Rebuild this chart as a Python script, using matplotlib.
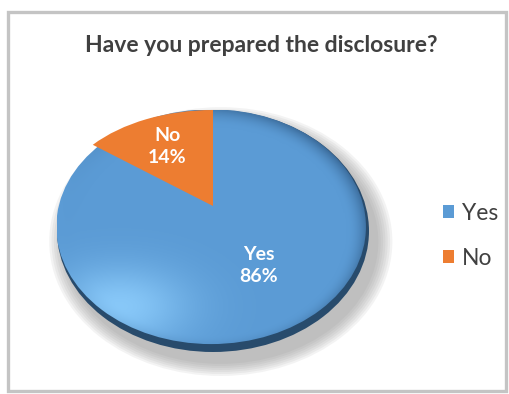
import matplotlib
matplotlib.use("Agg")
import numpy as np
import matplotlib.pyplot as plt
from matplotlib.patches import Rectangle, Ellipse, Patch
from matplotlib.colors import to_rgb

# data
labels = ["Yes", "No"]
values = [86, 14]
colors = ["#5B9BD5", "#ED7D31"]
title = "Have you prepared the disclosure?"

plt.rcParams['font.family'] = ['Lato', 'DejaVu Sans']

W, H = 510, 394
fig = plt.figure(figsize=(W / 100, H / 100), dpi=100)
fig.patch.set_facecolor("white")

# outer chart frame
bg = fig.add_axes([0, 0, 1, 1])
bg.set_xlim(0, W)
bg.set_ylim(H, 0)
bg.axis("off")
bg.add_patch(Rectangle((8, 12), 498, 379, fill=False, edgecolor="#C4C4C4", lw=2.4))

fig.text(261 / W, 1 - 46 / H, title, ha="center", va="center",
         fontsize=16.5, fontweight="bold", color="#404040")

# pie axes: radius 1 -> 156 px wide, 96 px tall, disc depth ~50 px
rx, ry, depth = 156, 96, 50
left, top = 57, 110
ax_h = 2 * ry + depth
ax = fig.add_axes([left / W, (H - top - ax_h) / H, 2 * rx / W, ax_h / H])
d = depth / ry
ylo = -1 - d
yc, hh = -d / 2, 1 + d / 2  # centre and half height of the disc outline

# soft drop shadow
for k in range(7):
    g = 0.10 - k * 0.015
    ax.add_patch(Ellipse((0.05, yc - 0.11), 2 + 2 * g, 2 * hh + 2 * g * 1.4,
                         color="#808080", alpha=0.09, lw=0, zorder=0, clip_on=False))

# dark rim + shaded body
ax.add_patch(Ellipse((0, yc), 2, 2 * hh, color="#284B6C", lw=0, zorder=0.5))
body = Ellipse((-0.012, yc + 0.045), 1.985, 2 * hh - 0.075, color="none", lw=0)
ax.add_patch(body)

xs = np.linspace(-1.05, 1.05, 300)
ys = np.linspace(ylo - 0.05, 1.05, 300)
X, Y = np.meshgrid(xs, ys)
base = np.array(to_rgb(colors[0]))
light = np.array(to_rgb("#8ACAFA"))
dark = np.array(to_rgb("#3A6A99"))
hl = 0.95 * np.exp(-(((X + 0.6) / 0.45) ** 2 + ((Y + 1.05) / 0.42) ** 2))
r = np.sqrt(X ** 2 + ((Y - yc) / hh) ** 2)
dk = np.clip((r - 0.86) / 0.14, 0, 1) ** 2 * np.clip(0.4 + 0.6 * (X + 0.3), 0, 1)
img = base[None, None, :] * (1 - hl[..., None]) + light[None, None, :] * hl[..., None]
img = img * (1 - dk[..., None]) + dark[None, None, :] * dk[..., None]
im = ax.imshow(img, extent=(xs[0], xs[-1], ys[0], ys[-1]), origin="lower",
               zorder=1.2, interpolation="bilinear")
im.set_clip_path(body)

# top face of the pie
wedges, texts = ax.pie(values, colors=colors, startangle=90, counterclock=False,
                       labels=[f"{l}\n{v}%" for l, v in zip(labels, values)],
                       labeldistance=0.69, wedgeprops=dict(lw=0), frame=True,
                       textprops=dict(color="white", fontsize=14, fontweight="bold",
                                      linespacing=1.35))
wedges[0].set_alpha(0)  # shaded body shows through for the blue slice
for w in wedges:
    w.set_zorder(2)
    w.set_clip_path(body)
for t in texts:
    t.set_ha("center")
    t.set_va("center")
    t.set_zorder(3)

ax.set_aspect("auto")
ax.set_xlim(-1, 1)
ax.set_ylim(ylo, 1)
ax.axis("off")

handles = [Patch(facecolor=c, edgecolor="none") for c in colors]
fig.legend(handles, labels, loc="center left", bbox_to_anchor=(422 / W, 1 - 236 / H),
           frameon=False, fontsize=16.5, labelcolor="#404040",
           handlelength=0.5, handleheight=0.5, handletextpad=0.35, labelspacing=1.05)

fig.savefig("out.png", dpi=100)
